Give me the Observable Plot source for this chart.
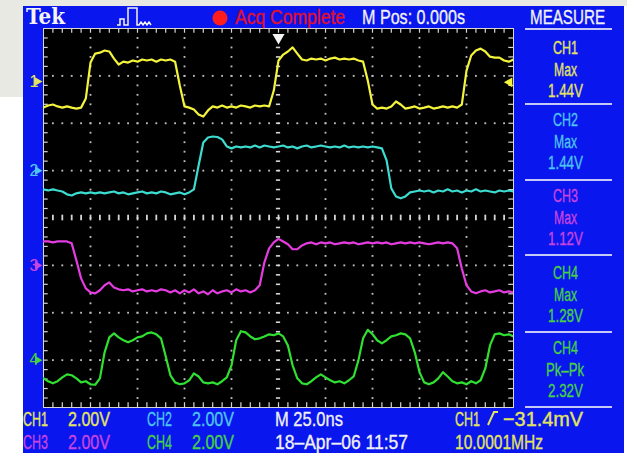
<!DOCTYPE html>
<html>
<head>
<meta charset="utf-8">
<title>Tek four-channel capture</title>
<script src="https://cdn.jsdelivr.net/npm/d3@7"></script>
<script src="https://cdn.jsdelivr.net/npm/@observablehq/plot@0.6"></script>
<style>
  html, body { margin: 0; padding: 0; background: #ffffff; overflow: hidden; }
  #page { position: relative; width: 627px; height: 453px; overflow: hidden;
          font-family: "Liberation Sans Narrow", "Liberation Sans", Arial, sans-serif; }
  .paper { position: absolute; background: #e9e9e3; }
  #bezel { position: absolute; left: 23px; top: 6px; width: 601px; height: 447px; background: #0a16ee; }
  #scope { position: absolute; left: 23px; top: 6px; width: 601px; height: 447px; }
  #scope svg { display: block; }
  .lbl { position: absolute; white-space: pre; line-height: 20px; height: 20px; transform-origin: 0 50%;
         -webkit-text-stroke: 0.35px currentColor; }
  .rule { position: absolute; height: 2px; background: #c6c8f6; }
  #glyphs { position: absolute; left: 0; top: 0; }
</style>
</head>
<body>
<div id="page">
  <div class="paper" style="left:0;top:0;width:627px;height:6px"></div>
  <div class="paper" style="left:0;top:0;width:23px;height:97px"></div>
  <div id="bezel"></div>
  <div id="scope"></div>
  <svg id="glyphs" width="627" height="453">
    <!-- trigger-mode pulse icon -->
    <path d="M117,25 H120 V19 H124 V25 H128 V8 H137 V25 H139 L141,22 L143,25 L145,22 L147,25 L149,22 L151,25"
          fill="none" stroke="#f4f4f4" stroke-width="1.5"/>
    <!-- acquisition state lamp -->
    <circle cx="220" cy="18" r="7.5" fill="#ff1c1c"/>
    <!-- rising-edge trigger slope -->
    <path d="M488,425 L494,412 H498" fill="none" stroke="#e4e45e" stroke-width="2"/>
  </svg>
</div>
<script>
// ---- acquisition settings ----
const sampleIntervalNs = 2.5;
const nsPerDiv = 25;
const horizontalPositionS = 0;

// ---- record, volts per sample (101 samples across the screen) ----
const ch1Volts = [
  -1.10,-1.01,-0.97,-1.05,-1.10,-1.05,-1.10,-1.14,-1.10,-0.72,
   0.80, 1.18, 1.22, 1.31, 1.27, 0.97, 0.72, 0.84, 0.80, 0.89,
   0.84, 0.93, 0.89, 0.93, 0.84, 0.93, 0.89, 0.93, 0.84,-0.17,
  -1.05,-1.10,-1.18,-1.39,-1.48,-1.22,-1.05,-1.10,-1.01,-1.10,
  -1.05,-1.10,-1.01,-1.05,-1.10,-1.01,-1.05,-1.01,-1.05,-0.38,
   0.89, 1.14, 1.27, 1.44, 1.18, 0.93, 0.89, 0.97, 0.93, 0.97,
   0.89, 0.97, 1.01, 0.93, 0.97, 0.93, 0.97, 0.89, 0.84, 0.04,
  -0.97,-1.14,-1.10,-1.14,-1.05,-0.84,-0.97,-1.14,-1.10,-1.05,
  -1.14,-1.10,-1.05,-1.14,-1.10,-1.05,-1.10,-1.05,-1.10,-0.97,
   0.46, 1.10, 1.31, 1.39, 1.27, 1.05, 1.01, 1.01, 0.89, 0.84,
   0.93
];
const ch2Volts = [
  -0.79,-0.84,-0.79,-0.84,-0.88,-1.00,-1.05,-0.96,-0.92,-0.96,
  -0.92,-0.96,-0.92,-0.96,-0.92,-0.88,-0.96,-0.92,-1.00,-0.96,
  -0.92,-0.88,-0.96,-0.92,-0.96,-0.88,-0.92,-1.00,-0.96,-0.92,
  -1.00,-0.92,-0.79, 0.22, 1.19, 1.40, 1.44, 1.42, 1.32, 1.02,
   0.94, 1.02, 0.98, 1.02, 0.98, 1.06, 0.98, 1.06, 1.02, 0.98,
   1.02, 1.06, 0.98, 1.02, 0.94, 1.02, 1.06, 0.98, 1.02, 1.06,
   1.02, 0.98, 1.02, 0.98, 1.06, 0.98, 1.02, 0.98, 1.02, 0.98,
   1.02, 0.98, 0.94, 0.43,-0.75,-1.09,-1.17,-1.09,-0.92,-0.88,
  -0.84,-0.88,-0.84,-0.92,-0.84,-0.88,-0.79,-0.88,-0.84,-0.92,
  -0.84,-0.88,-0.79,-0.88,-0.84,-0.88,-0.92,-0.84,-0.88,-0.84,
  -0.88
];
const ch3Volts = [
   1.01, 1.01, 0.97, 1.01, 1.01, 1.01, 0.93, 0.21,-0.55,-0.97,
  -1.14,-1.18,-1.05,-0.84,-0.72,-0.93,-1.01,-1.05,-1.01,-1.10,
  -1.05,-1.01,-1.10,-1.05,-1.10,-1.01,-1.05,-1.14,-1.05,-1.18,
  -1.05,-1.14,-1.01,-1.18,-1.10,-1.22,-1.05,-1.18,-1.10,-1.05,
  -1.14,-1.01,-1.10,-1.05,-1.14,-1.05,-0.84, 0.13, 0.72, 0.97,
   1.12, 1.01, 0.89, 0.68, 0.68, 0.84, 0.93, 0.97, 0.89, 0.97,
   0.93, 0.97, 0.89, 0.93, 0.97, 0.93, 0.97, 0.89, 0.93, 0.97,
   0.93, 0.97, 0.93, 0.97, 0.89, 0.93, 0.97, 0.93, 0.97, 0.93,
   0.97, 0.93, 0.89, 0.93, 0.97, 0.93, 0.97, 0.93, 0.72,-0.13,
  -0.84,-1.10,-1.18,-1.10,-1.05,-1.14,-1.10,-1.05,-1.14,-1.10,
  -1.14
];
const ch4Volts = [
  -0.77,-0.89,-0.98,-0.89,-0.73,-0.60,-0.64,-0.77,-0.94,-0.89,
  -1.02,-1.04,-0.77, 0.33, 0.96, 1.13, 0.96, 0.84, 0.75, 0.84,
   0.96, 1.00, 1.13, 1.17, 1.09, 0.92, 0.16,-0.64,-0.94,-1.02,
  -0.98,-0.85,-0.56,-0.69,-0.94,-0.98,-0.94,-1.02,-0.89,-0.73,
  -0.22, 0.84, 1.22, 1.17, 1.00, 0.88, 0.92, 1.00, 1.09, 1.05,
   1.13, 1.00, 0.62,-0.22,-0.77,-0.98,-1.02,-0.89,-0.73,-0.60,
  -0.73,-0.85,-0.94,-0.89,-0.98,-0.85,-0.69,-0.01, 0.92, 1.28,
   1.09, 0.84, 0.71, 0.84, 1.00, 1.05, 1.13, 1.09, 0.92, 0.33,
  -0.51,-0.94,-1.02,-0.94,-0.77,-0.51,-0.69,-0.89,-0.98,-0.94,
  -1.02,-0.89,-0.98,-0.85,-0.35, 0.62, 1.09, 1.13, 1.05, 1.09,
   1.00
];

// ---- vertical setup per channel ----
const channelNames = ["CH1", "CH2", "CH3", "CH4"];
const voltsPerDiv = [2, 2, 2, 2];
const groundDiv = [2.88, 1, -1, -3];
const traceColors = ["#f4f43c", "#3cdcd0", "#e43ce0", "#30e030"];
const textColors = ["#e4e45e", "#4ec4f2", "#c844e2", "#46d046"];

// ---- trigger, status and measurements ----
const triggerSource = 0;
const triggerLevelMv = -31.4;
const triggerFrequency = "10.0001MHz";
const acquisitionStatus = "Acq Complete";
const timestamp = "18\u2013Apr\u201306 11:57";
const measureSource = [0, 1, 2, 3, 3];
const measureKind = ["Max", "Max", "Max", "Max", "Pk\u2013Pk"];

// ---- samples in screen divisions ----
const traces = [ch1Volts, ch2Volts, ch3Volts, ch4Volts];
const halfSpan = 5 * nsPerDiv;
const samples = traces.flatMap((volts, c) => volts.map((v, i) => ({
  c,
  t: -halfSpan + i * sampleIntervalNs,
  div: v / voltsPerDiv[c] + groundDiv[c]
})));

// ---- graticule: 10 x 8 divisions, 5 minor steps per division ----
const minorY = d3.range(-19, 20).map(j => j / 5);
const minorX = d3.range(-24, 25).map(i => i * nsPerDiv / 5);
const majorX = d3.range(-4, 5).filter(d => d !== 0).map(d => d * nsPerDiv);
const majorY = [-3, -2, -1, 1, 2, 3];
const gridDots = [
  ...majorX.flatMap(x => minorY.map(y => ({x, y}))),
  ...majorY.flatMap(y => minorX.map(x => ({x, y})))
];
const tickColor = "#d6d6d6";
const channels = d3.range(channelNames.length);

const scope = Plot.plot({
  width: 601,
  height: 447,
  marginLeft: 20,
  marginRight: 111,
  marginTop: 22,
  marginBottom: 46,
  x: {domain: [-halfSpan, halfSpan], axis: null},
  y: {domain: [-4, 4], axis: null},
  color: {type: "identity"},
  style: {background: "transparent"},
  marks: [
    Plot.frame({fill: "#000000"}),
    Plot.dot(gridDots, {x: "x", y: "y", symbol: "square", r: 1.05, fill: "#bcbcbc"}),
    // centre cross with minor ticks
    Plot.ruleY(minorY, {y: d => d, x1: -nsPerDiv * 0.045, x2: nsPerDiv * 0.045, stroke: tickColor, strokeWidth: 1.6}),
    Plot.ruleX(minorX, {x: d => d, y1: -0.06, y2: 0.06, stroke: tickColor, strokeWidth: 1.8}),
    // border ticks
    Plot.ruleX(minorX, {x: d => d, y1: 4, y2: 3.9, stroke: tickColor, strokeWidth: 1.2}),
    Plot.ruleX(minorX, {x: d => d, y1: -4, y2: -3.9, stroke: tickColor, strokeWidth: 1.2}),
    Plot.ruleY(minorY, {y: d => d, x1: -halfSpan, x2: -halfSpan + 0.1 * nsPerDiv, stroke: tickColor, strokeWidth: 1.2}),
    Plot.ruleY(minorY, {y: d => d, x1: halfSpan, x2: halfSpan - 0.1 * nsPerDiv, stroke: tickColor, strokeWidth: 1.2}),
    Plot.frame({stroke: tickColor, strokeWidth: 1}),
    // waveforms
    Plot.line(samples, {x: "t", y: "div", z: "c", stroke: d => traceColors[d.c], strokeWidth: 2.2, clip: true}),
    // channel ground markers
    Plot.text(channels, {
      frameAnchor: "left", y: c => groundDiv[c], text: c => String(c + 1), dx: -14,
      fill: c => textColors[c], fontSize: 16, fontFamily: "Liberation Sans Narrow, Liberation Sans, sans-serif"
    }),
    Plot.dot(channels, {
      frameAnchor: "left", y: c => groundDiv[c], symbol: "triangle", rotate: 90, r: 3.2, dx: -6,
      fill: c => textColors[c]
    }),
    // trigger position and trigger level
    Plot.dot([horizontalPositionS * 1e9], {
      x: d => d, frameAnchor: "top", symbol: "triangle", rotate: 180, r: 4.5, dy: 9, fill: "#f4f4f4"
    }),
    Plot.dot([triggerLevelMv], {
      y: mv => mv / 1000 / voltsPerDiv[triggerSource] + groundDiv[triggerSource],
      frameAnchor: "right", symbol: "triangle", rotate: -90, r: 3.6, dx: -4, fill: traceColors[triggerSource]
    })
  ]
});
document.getElementById("scope").appendChild(scope);

// ---- bezel read-outs ----
const page = document.getElementById("page");
function label(text, o) {
  const el = document.createElement("div");
  el.className = "lbl";
  el.textContent = text;
  el.style.fontSize = (o.size || 19) + "px";
  el.style.color = o.color || "#f0f0f6";
  if (o.family) el.style.fontFamily = o.family;
  if (o.weight) el.style.fontWeight = o.weight;
  if (o.weight) el.style.webkitTextStroke = "0px";
  page.appendChild(el);
  const natural = el.getBoundingClientRect().width;
  const k = o.w ? o.w / natural : 1;
  const left = o.cx !== undefined ? o.cx - natural * k / 2 : o.x;
  el.style.left = left + "px";
  el.style.top = (o.cy - 10) + "px";
  el.style.transform = `scaleX(${k})`;
}
function rule(y) {
  const el = document.createElement("div");
  el.className = "rule";
  el.style.left = "525px";
  el.style.width = "87px";
  el.style.top = y + "px";
  page.appendChild(el);
}
const fmtV = v => v.toFixed(2) + "V";

// header
label("Tek", {x: 26, cy: 16, w: 39, size: 22, weight: 700, family: '"DejaVu Serif", serif', color: "#f4f4f4"});
label(acquisitionStatus, {x: 235, cy: 17, w: 110, size: 20.5, color: "#e0102c"});
label(`M Pos: ${horizontalPositionS.toFixed(3)}s`, {x: 362, cy: 16.5, w: 103, size: 20});
label("MEASURE", {x: 530, cy: 16.5, w: 75, size: 20});

// measurement panel
const sectionCy = [48, 120, 196, 273, 348];
[28, 103, 179, 254, 331, 406].forEach(rule);
measureSource.forEach((c, i) => {
  const volts = traces[c];
  const reading = measureKind[i] === "Max" ? d3.max(volts) : d3.max(volts) - d3.min(volts);
  const col = textColors[c];
  const cy = sectionCy[i];
  label(channelNames[c], {cx: 565, cy, w: 25, color: col});
  label(measureKind[i], {cx: 565, cy: cy + 21.5, w: measureKind[i] === "Max" ? 23 : 38, color: col});
  label(fmtV(reading), {cx: 565, cy: cy + 43, w: 35, color: col});
});

// status line
const scaleSlots = [{x: 23, cy: 418.5}, {x: 147, cy: 418.5}, {x: 23, cy: 441.5}, {x: 147, cy: 441.5}];
channels.forEach(c => {
  const s = scaleSlots[c];
  label(channelNames[c], {x: s.x, cy: s.cy, w: 25, size: 21, color: textColors[c]});
  label(voltsPerDiv[c].toFixed(2) + "V", {x: s.x + 45, cy: s.cy, w: 42, size: 21, color: textColors[c]});
});
label(`M ${nsPerDiv.toFixed(1)}ns`, {x: 275, cy: 418.5, w: 68, size: 21});
label(timestamp, {x: 275, cy: 441.5, w: 133, size: 21});
label(channelNames[triggerSource], {x: 455, cy: 418.5, w: 25, size: 21, color: textColors[triggerSource]});
label((triggerLevelMv < 0 ? "\u2212" : "") + Math.abs(triggerLevelMv).toFixed(1) + "mV",
      {x: 503, cy: 418.5, w: 80, size: 21, color: textColors[triggerSource]});
label(triggerFrequency, {x: 455, cy: 441.5, w: 88, size: 21, color: textColors[triggerSource]});
</script>
</body>
</html>
